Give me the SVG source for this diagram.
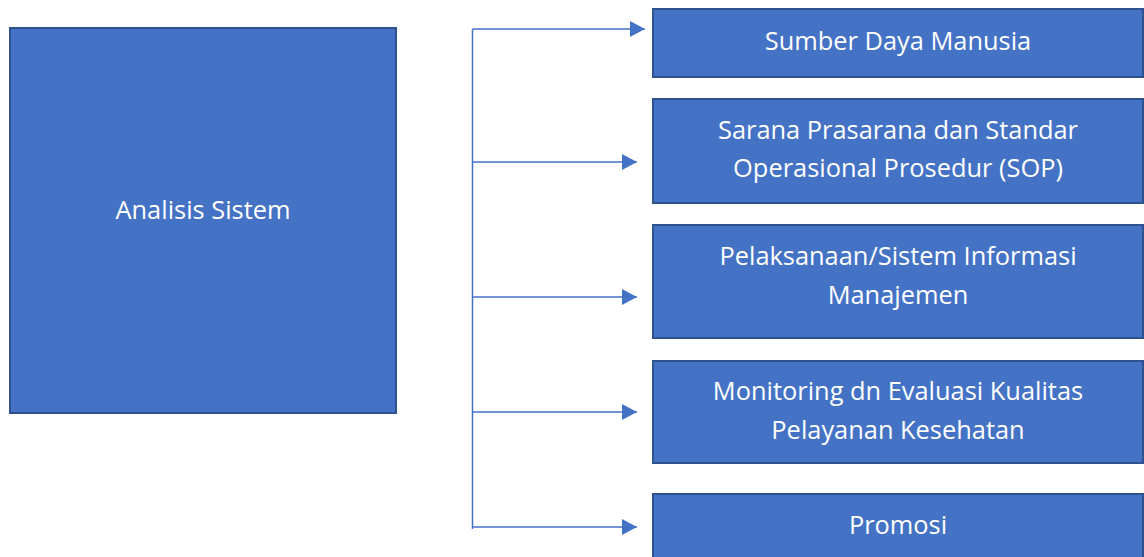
<svg xmlns="http://www.w3.org/2000/svg" width="1144" height="557" viewBox="0 0 1144 557">
<style>
.box{fill:#4472C4;stroke:#2F528F;stroke-width:2}
.t{fill:#FFFFFF;font-family:"Open Sans","Noto Sans",sans-serif;font-size:25.4px;text-anchor:middle;dominant-baseline:central}
.c{stroke:#4472C4;stroke-width:1.5;fill:none}
</style>
<defs>
<marker id="arr" markerWidth="16" markerHeight="16" refX="15" refY="8" orient="auto" markerUnits="userSpaceOnUse">
<path d="M0,0 L15,8 L0,16 Z" fill="#4472C4"/>
</marker>
</defs>
<rect width="1144" height="557" fill="#FFFFFF"/>
<g id="connectors">
<line class="c" x1="472.5" y1="29" x2="472.5" y2="529"/>
<line class="c" x1="472.5" y1="29" x2="645" y2="29" marker-end="url(#arr)"/>
<line class="c" x1="472.5" y1="162" x2="637" y2="162" marker-end="url(#arr)"/>
<line class="c" x1="472.5" y1="297" x2="637" y2="297" marker-end="url(#arr)"/>
<line class="c" x1="472.5" y1="412" x2="637" y2="412" marker-end="url(#arr)"/>
<line class="c" x1="472.5" y1="527" x2="637" y2="527" marker-end="url(#arr)"/>
</g>
<g id="analisis">
<rect class="box" x="10" y="28" width="386" height="385"/>
<text class="t" x="203" y="209">Analisis Sistem</text>
</g>
<g id="sdm">
<rect class="box" x="653" y="9" width="490" height="68"/>
<text class="t" x="898" y="40">Sumber Daya Manusia</text>
</g>
<g id="sarana">
<rect class="box" x="653" y="99" width="490" height="104"/>
<text class="t" x="898" y="129">Sarana Prasarana dan Standar</text>
<text class="t" x="898" y="167">Operasional Prosedur (SOP)</text>
</g>
<g id="pelaksanaan">
<rect class="box" x="653" y="225" width="490" height="113"/>
<text class="t" x="898" y="255">Pelaksanaan/Sistem Informasi</text>
<text class="t" x="898" y="294">Manajemen</text>
</g>
<g id="monitoring">
<rect class="box" x="653" y="361" width="490" height="102"/>
<text class="t" x="898" y="390">Monitoring dn Evaluasi Kualitas</text>
<text class="t" x="898" y="429">Pelayanan Kesehatan</text>
</g>
<g id="promosi">
<rect class="box" x="653" y="494" width="490" height="70"/>
<text class="t" x="898" y="524">Promosi</text>
</g>
</svg>
